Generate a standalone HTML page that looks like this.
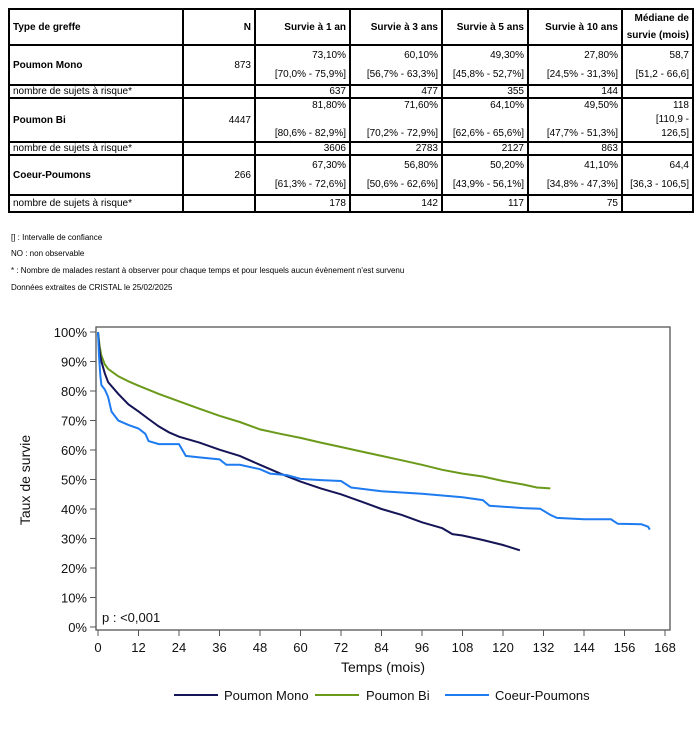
<!DOCTYPE html>
<html><head><meta charset="utf-8">
<style>
body{margin:0;background:#fff;width:700px;height:750px;overflow:hidden;font-family:"Liberation Sans",Arial,sans-serif;}
table{position:absolute;left:8px;top:8px;border-collapse:collapse;font-size:10px;color:#000;}
td{border:2px solid #000;padding:0 3px;text-align:right;line-height:15px;box-sizing:border-box;vertical-align:middle;}
td.l{text-align:left;}
tr.n td{line-height:10px;padding-top:0;padding-bottom:0;font-size:10px;}
.b{font-weight:bold;}
.notes{position:absolute;left:11px;font-size:8px;color:#000;}
</style></head><body>
<table>
<colgroup><col style="width:174px"><col style="width:72px"><col style="width:95px"><col style="width:92px"><col style="width:86px"><col style="width:94px"><col style="width:71px"></colgroup>
<tr style="height:34px"><td class="l b">Type de greffe</td><td class="b">N</td><td class="b">Survie à 1 an</td><td class="b">Survie à 3 ans</td><td class="b">Survie à 5 ans</td><td class="b">Survie à 10 ans</td><td class="b" style="line-height:17px">Médiane de survie (mois)</td></tr>
<tr style="height:40px"><td class="l b">Poumon Mono</td><td>873</td><td style="line-height:19px">73,10%<br>[70,0% - 75,9%]</td><td style="line-height:19px">60,10%<br>[56,7% - 63,3%]</td><td style="line-height:19px">49,30%<br>[45,8% - 52,7%]</td><td style="line-height:19px">27,80%<br>[24,5% - 31,3%]</td><td style="line-height:19px">58,7<br>[51,2 - 66,6]</td></tr>
<tr class="n" style="height:13px"><td class="l">nombre de sujets à risque*</td><td></td><td>637</td><td>477</td><td>355</td><td>144</td><td></td></tr>
<tr style="height:44px"><td class="l b">Poumon Bi</td><td>4447</td><td style="line-height:14px">81,80%<br><br>[80,6% - 82,9%]</td><td style="line-height:14px">71,60%<br><br>[70,2% - 72,9%]</td><td style="line-height:14px">64,10%<br><br>[62,6% - 65,6%]</td><td style="line-height:14px">49,50%<br><br>[47,7% - 51,3%]</td><td style="line-height:14px">118<br>[110,9 -<br>126,5]</td></tr>
<tr class="n" style="height:13px"><td class="l">nombre de sujets à risque*</td><td></td><td>3606</td><td>2783</td><td>2127</td><td>863</td><td></td></tr>
<tr style="height:40px"><td class="l b">Coeur-Poumons</td><td>266</td><td style="line-height:19px">67,30%<br>[61,3% - 72,6%]</td><td style="line-height:19px">56,80%<br>[50,6% - 62,6%]</td><td style="line-height:19px">50,20%<br>[43,9% - 56,1%]</td><td style="line-height:19px">41,10%<br>[34,8% - 47,3%]</td><td style="line-height:19px">64,4<br>[36,3 - 106,5]</td></tr>
<tr class="n" style="height:17px"><td class="l" style="line-height:13px">nombre de sujets à risque*</td><td></td><td style="line-height:13px">178</td><td style="line-height:13px">142</td><td style="line-height:13px">117</td><td style="line-height:13px">75</td><td></td></tr>
</table>
<div class="notes" style="top:233px">[] : Intervalle de confiance</div>
<div class="notes" style="top:249px">NO : non observable</div>
<div class="notes" style="top:266px">* : Nombre de malades restant à observer pour chaque temps et pour lesquels aucun évènement n'est survenu</div>
<div class="notes" style="top:283px">Données extraites de CRISTAL le 25/02/2025</div>

<svg id="s" width="700" height="750" style="position:absolute;left:0;top:0" font-family="Liberation Sans, Arial, sans-serif">
<rect x="96" y="327" width="574" height="303" fill="none" stroke="#555" stroke-width="1.3"/>
<g id="ax" font-size="13" fill="#111"></g>
<text x="102" y="622" font-size="13" fill="#111">p : &lt;0,001</text>
<text x="383" y="672" font-size="14" text-anchor="middle" fill="#111">Temps (mois)</text>
<text transform="translate(30,480) rotate(-90)" font-size="14" text-anchor="middle" fill="#111">Taux de survie</text>
<g id="cv" fill="none" stroke-width="2"></g>
<g font-size="13" fill="#111">
<line x1="174" y1="695" x2="218" y2="695" stroke="#141456" stroke-width="2"/><text x="224" y="700">Poumon Mono</text>
<line x1="315" y1="695" x2="359" y2="695" stroke="#6b9a1a" stroke-width="2"/><text x="366" y="700">Poumon Bi</text>
<line x1="445" y1="695" x2="489" y2="695" stroke="#1e7bf0" stroke-width="2"/><text x="495" y="700">Coeur-Poumons</text>
</g>
</svg>
<script>
var X=function(t){return 98+t*3.375},Y=function(p){return 627-p*2.95};
var ax=document.getElementById('ax'),h='';
for(var i=0;i<=10;i++){var y=Y(i*10);h+='<line x1="90" y1="'+y+'" x2="96" y2="'+y+'" stroke="#555"/><text x="87" y="'+(y+5)+'" text-anchor="end">'+(i*10)+'%</text>';}
for(var t=0;t<=168;t+=12){var x=X(t);h+='<line x1="'+x+'" y1="630" x2="'+x+'" y2="636" stroke="#555"/><text x="'+x+'" y="652" text-anchor="middle">'+t+'</text>';}
ax.innerHTML=h;
function pl(d,c){var s='';for(var i=0;i<d.length;i+=2){s+=X(d[i]).toFixed(1)+','+Y(d[i+1]).toFixed(1)+' ';}return '<polyline points="'+s+'" stroke="'+c+'"/>';}
var mono=[0,100,0.5,93,1,90,2,86,3,83,6,79,9,75.5,12,73.1,15,70.5,18,68,21,66,24,64.5,30,62.5,36,60.1,42,58,48,55,54,52,60,49.3,66,47,72,45,78,42.5,84,40,90,38,96,35.5,102,33.5,105,31.5,108,31,114,29.5,120,27.8,125,26];
var bi=[0,100,0.5,95,1,92,2,89,3,87.5,6,85,9,83.3,12,81.8,18,79,24,76.5,30,74,36,71.6,42,69.5,48,67,54,65.5,60,64.1,66,62.5,72,61,78,59.5,84,58,90,56.5,96,55,102,53.3,108,52,114,51,120,49.5,126,48.3,130,47.3,134,47];
var co=[0,100,0.3,92,0.7,85,1,82,2,80.5,3,78,4,73,5,71.5,6,70,9,68.5,12,67.3,14,65.5,15,63,18,62,24,62,26,58,30,57.5,36,56.8,38,55,42,55,48,53.5,51,52,56,51.5,60,50.2,66,49.8,72,49.5,75,47.3,84,46,96,45.2,108,44,114,43,116,41.1,126,40.3,131,40.1,134,38,136,37,144,36.5,152,36.5,154,35,161,34.8,163,34,163.5,33];
document.getElementById('cv').innerHTML=pl(bi,'#6b9a1a')+pl(mono,'#141456')+pl(co,'#1e7bf0');
</script>
</body></html>
